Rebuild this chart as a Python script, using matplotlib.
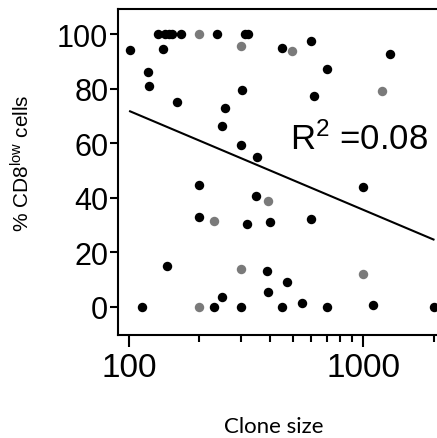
import matplotlib
matplotlib.use('Agg')
import matplotlib.pyplot as plt
from matplotlib.ticker import NullFormatter, FixedLocator

plt.rcParams['font.family'] = ['Liberation Sans', 'DejaVu Sans']
plt.rcParams['mathtext.fontset'] = 'custom'
plt.rcParams['mathtext.rm'] = 'Liberation Sans'
plt.rcParams['mathtext.it'] = 'Liberation Sans:italic'

# clone size vs % CD8low, black points
black_x = [101, 133, 143, 140, 120, 122, 148, 152, 167, 160, 237, 313, 323, 303,
           257, 250, 301, 351, 449, 597, 704, 618, 1300, 200, 349, 200, 320, 400,
           145, 387, 391, 250, 114, 231, 301, 996, 597, 474, 449, 550, 700, 1100, 2000]
black_y = [94, 100, 100, 94.5, 86, 81, 100, 100, 100, 75, 100, 100, 100, 79.6,
           73, 66.4, 59.3, 54.8, 94.8, 97.4, 87.2, 77.4, 92.7, 44.7, 40.8, 32.8, 30.4, 31,
           15.1, 13.1, 5.4, 3.5, 0, 0, 0, 44, 32.2, 9, 0, 1.4, 0, 0.8, 0]

# grey points
grey_x = [200, 301, 499, 1210, 393, 231, 301, 200, 1003]
grey_y = [100, 95.6, 93.7, 79.2, 38.9, 31.6, 13.9, 0, 12.1]

# regression line end points
fit_x = [101, 2000]
fit_y = [71.7, 24.7]

fig = plt.figure(figsize=(4.37, 4.39), dpi=100)
ax = fig.add_axes([118/437, 103/439, 319/437, 326/439])

ax.plot(black_x, black_y, 'o', color='black', markersize=6.8, markeredgewidth=0, clip_on=False)
ax.plot(grey_x, grey_y, 'o', color='#7a7a7a', markersize=6.8, markeredgewidth=0, clip_on=False)
ax.plot(fit_x, fit_y, color='black', linewidth=1.5)

ax.set_xscale('log')
ax.set_xlim(89.7, 2070)
ax.set_ylim(-10.3, 109.2)

ax.xaxis.set_major_locator(FixedLocator([100, 1000]))
ax.xaxis.set_minor_locator(FixedLocator([200, 300, 400, 500, 600, 700, 800, 900, 2000]))
ax.xaxis.set_minor_formatter(NullFormatter())
ax.set_xticklabels(['100', '1000'])
ax.set_yticks([0, 20, 40, 60, 80, 100])

ax.spines['right'].set_visible(False)
for s in ['left', 'bottom', 'top']:
    ax.spines[s].set_linewidth(1.5)

ax.tick_params(axis='y', which='major', length=5.5, width=1.5, labelsize=22, pad=1.5)
ax.tick_params(axis='x', which='major', length=8.5, width=1.5, labelsize=24, pad=4)
ax.tick_params(axis='x', which='minor', length=5, width=1.5)

ax.set_ylabel('% CD8$^{\\mathrm{low}}$ cells', fontsize=15)
ax.yaxis.set_label_coords(-0.265, 0.53)
ax.set_xlabel('Clone size', fontsize=16, family=['Lato', 'DejaVu Sans'])
ax.xaxis.set_label_coords(0.489, -0.25)

ax.text(0.539, 0.571, '$\\mathrm{R}^{2}$ =0.08', transform=ax.transAxes,
        fontsize=25, va='baseline', ha='left')

fig.savefig('out.png', dpi=100)
